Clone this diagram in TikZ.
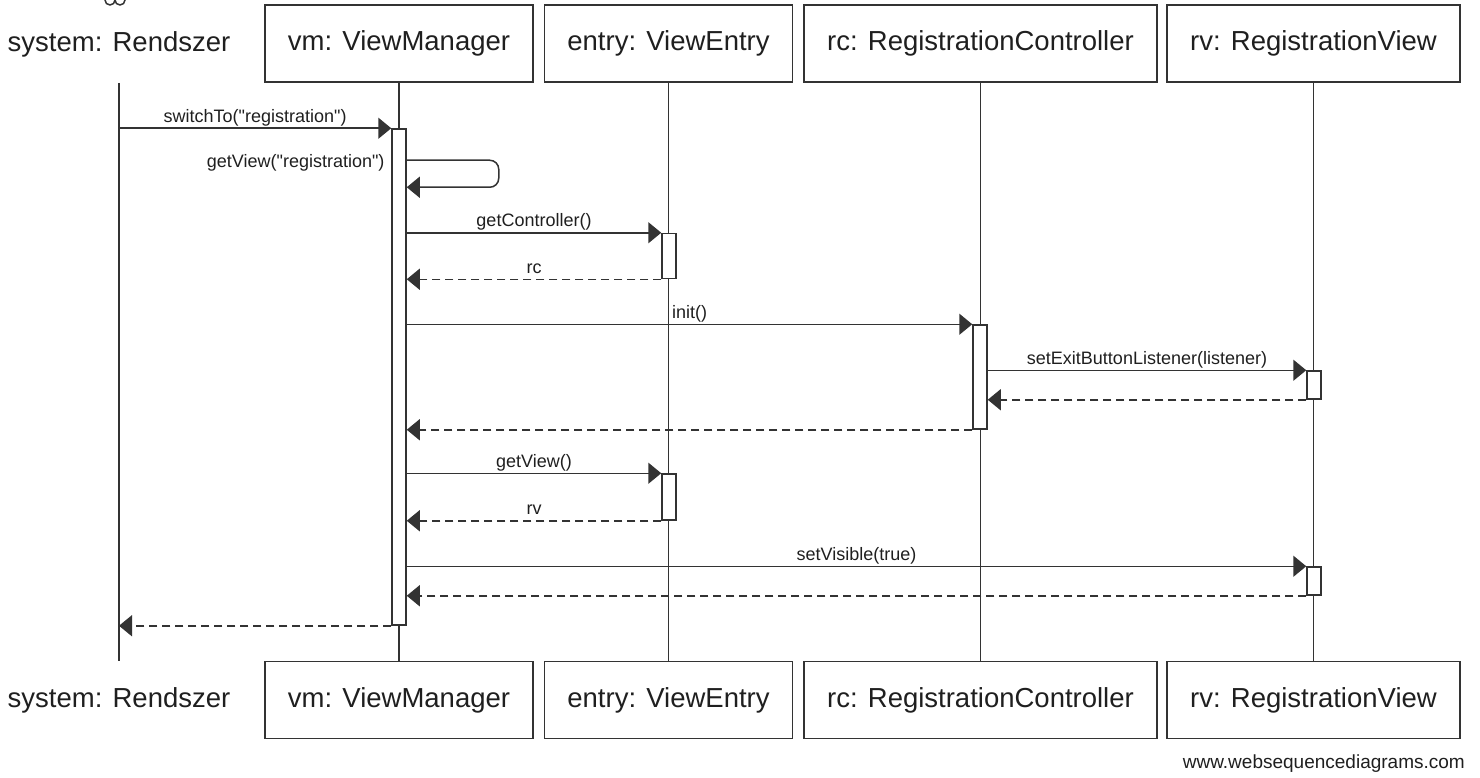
\documentclass[tikz,border=0pt]{standalone}
\usepackage{fontspec}
\setmainfont{Liberation Sans}[Ligatures=TeXOff]
\usetikzlibrary{arrows.meta,calc}
\definecolor{ink}{gray}{0.2}
\begin{document}
\begin{tikzpicture}[x=1pt,y=-1pt,
  head/.style={draw=ink,line width=1.5pt,minimum height=77pt,inner xsep=23pt,
    font=\fontsize{27.5}{33}\selectfont,text=black!88},
  actor/.style={inner sep=0pt,font=\fontsize{27.5}{33}\selectfont,text=black!88},
  life/.style={draw=ink,line width=1.5pt},
  actbox/.style={draw=ink,fill=white,line width=1.5pt,minimum width=14pt,inner sep=0pt},
  msg/.style={draw=ink,line width=1.5pt,-{Triangle[length=13pt,width=21pt]}},
  ret/.style={msg,dash pattern=on 8pt off 5pt},
  lbl/.style={font=\fontsize{18}{21}\selectfont,text=black!88,inner sep=1.6pt,text depth=3.8pt}]
\useasboundingbox (0,0) rectangle (1480,778);
% actor feet, cut off at the top
\draw[life] (110,0) circle[radius=5] (120,0) circle[radius=5];
% participants, top row
\node[actor] (sysT) at (119,44) {system: Rendszer};
\node[head] (vmT) at (399,43.5) {vm: ViewManager};
\node[head] (enT) at (668.5,43.5) {entry: ViewEntry};
\node[head] (rcT) at (980.5,43.5) {rc: RegistrationController};
\node[head] (rvT) at (1313.5,43.5) {rv: RegistrationView};
% participants, bottom row
\node[actor] (sysB) at (119,700) {system: Rendszer};
\node[head] (vmB) at (399,700) {vm: ViewManager};
\node[head] (enB) at (668.5,700) {entry: ViewEntry};
\node[head] (rcB) at (980.5,700) {rc: RegistrationController};
\node[head] (rvB) at (1313.5,700) {rv: RegistrationView};
% lifelines
\coordinate (sysTop) at (119,83);
\coordinate (sysBot) at (119,661);
\draw[life] (sysTop) -- (sysBot);
\draw[life] (vmT) -- (vmB);
\draw[life] (enT) -- (enB);
\draw[life] (rcT) -- (rcB);
\draw[life] (rvT) -- (rvB);
% activations
\node[actbox,minimum height=496pt] (vmA) at (399,377) {};
\node[actbox,minimum height=45pt] (enA1) at (669,256) {};
\node[actbox,minimum height=104pt] (rcA) at (980,377) {};
\node[actbox,minimum height=28pt] (rvA1) at (1314,385) {};
\node[actbox,minimum height=46pt] (enA2) at (669,497) {};
\node[actbox,minimum height=28pt] (rvA2) at (1314,581) {};
% messages
\draw[msg] (sysTop |- vmA.north west) -- node[lbl,above] (l1) {switchTo("registration")} (vmA.north west);
\draw[msg,rounded corners=9pt] ($(vmA.north east)+(0,32)$) -- ++(92,0) -- ++(0,27)
  -- ($(vmA.north east)+(0,59)$);
\node[lbl,anchor=base east] (l2) at ($(vmA.north west)+(-5,39)$) {getView("registration")};
\draw[msg] (vmA.east |- enA1.north west) -- node[lbl,above] (l3) {getController()} (enA1.north west);
\draw[ret] (enA1.south west) -- node[lbl,above] (l4) {rc} (vmA.east |- enA1.south west);
\draw[msg] (vmA.east |- rcA.north west) -- node[lbl,above] (l5) {init()} (rcA.north west);
\draw[msg] (rcA.east |- rvA1.north west) -- node[lbl,above] (l6) {setExitButtonListener(listener)} (rvA1.north west);
\draw[ret] (rvA1.south west) -- (rcA.east |- rvA1.south west);
\draw[ret] (rcA.south west) -- (vmA.east |- rcA.south west);
\draw[msg] (vmA.east |- enA2.north west) -- node[lbl,above] (l7) {getView()} (enA2.north west);
\draw[ret] (enA2.south west) -- node[lbl,above] (l8) {rv} (vmA.east |- enA2.south west);
\draw[msg] (vmA.east |- rvA2.north west) -- node[lbl,above] (l9) {setVisible(true)} (rvA2.north west);
\draw[ret] (rvA2.south west) -- (vmA.east |- rvA2.south west);
\draw[ret] (vmA.south west) -- (sysTop |- vmA.south west);
% footer
\node[anchor=base east,inner sep=0pt,font=\fontsize{19}{23}\selectfont,text=black!88] (site) at (1465,768) {www.websequencediagrams.com};
\end{tikzpicture}
\end{document}
